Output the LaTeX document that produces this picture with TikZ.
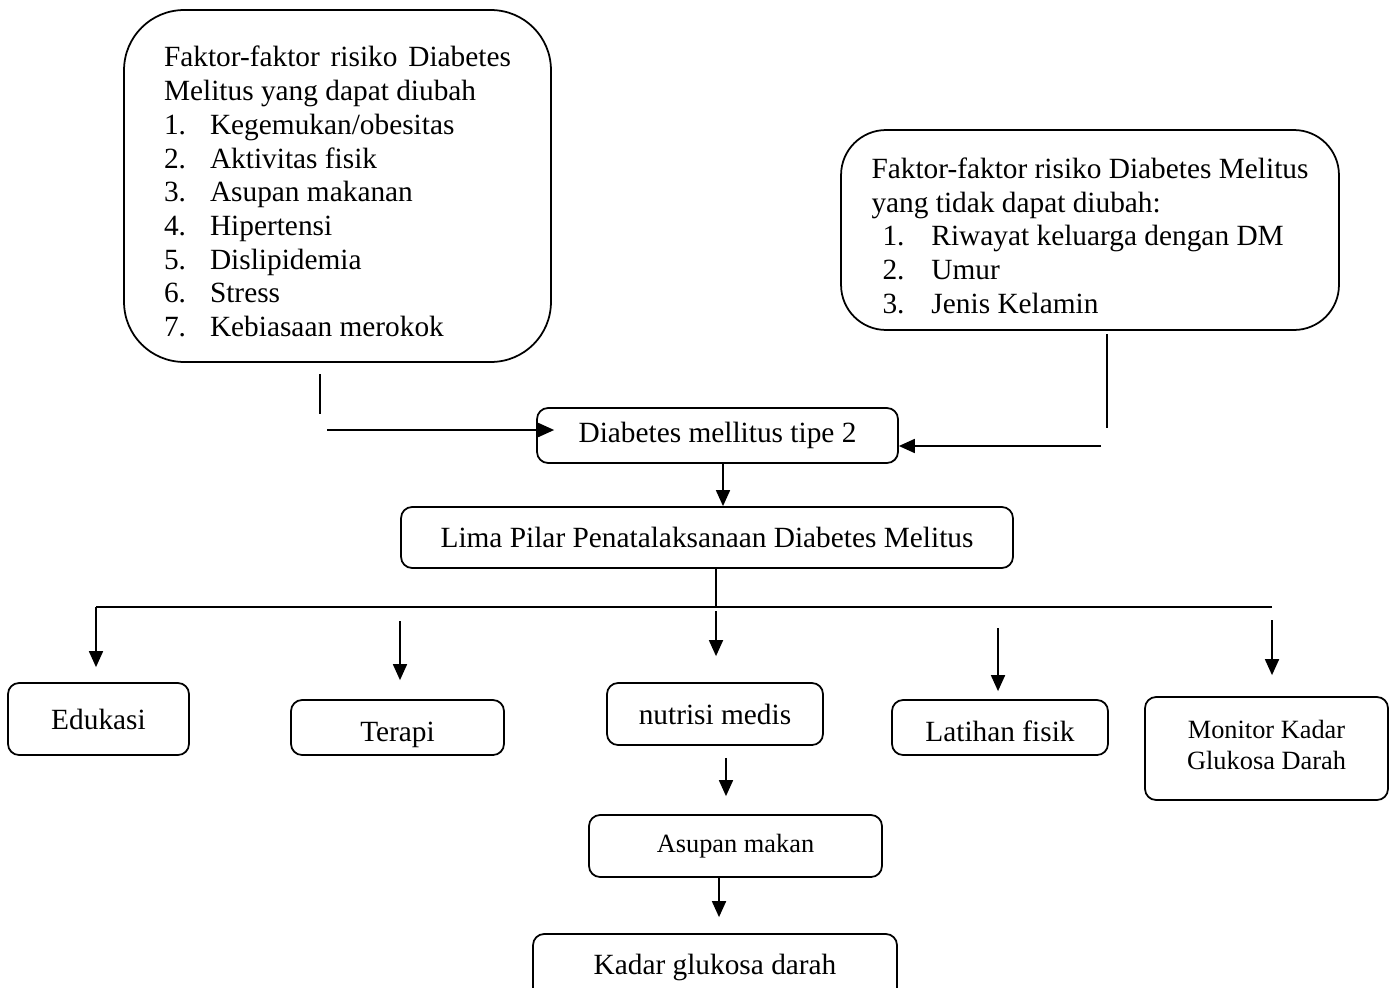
\documentclass[tikz,border=0pt]{standalone}
\usepackage{fontspec}
\setmainfont{Liberation Serif}
\usetikzlibrary{arrows.meta}
\tikzset{
  risk box/.style={
    draw=black, line width=1pt, rounded corners=1.2cm, inner sep=0pt, align=left,
    font=\fontsize{16.7}{19.2}\selectfont
  },
  main box/.style={
    draw=black, line width=1pt, rounded corners=0.22cm, inner sep=0pt, align=center,
    font=\fontsize{16.7}{19.2}\selectfont
  },
  small box/.style={
    draw=black, line width=1pt, rounded corners=0.22cm, inner sep=0pt, align=center,
    font=\fontsize{15}{17.6}\selectfont
  },
  link/.style={draw=black, line width=1pt},
  flow/.style={draw=black, line width=1pt, -{Triangle[length=0.32cm,width=0.28cm]}}
}

\begin{document}
\begin{tikzpicture}[x=0.02cm, y=-0.02cm]
\useasboundingbox (0,0) rectangle (1395,987);

% faktor risiko yang dapat diubah
\node[risk box, minimum width=8.54cm, minimum height=7.04cm] (riskA) at (337.5,186) {%
  \rule{0pt}{0.64cm}\makebox[6.94cm][s]{Faktor-faktor risiko Diabetes}\\
  Melitus yang dapat diubah\\
  \makebox[0.92cm][l]{1.}Kegemukan/obesitas\\
  \makebox[0.92cm][l]{2.}Aktivitas fisik\\
  \makebox[0.92cm][l]{3.}Asupan makanan\\
  \makebox[0.92cm][l]{4.}Hipertensi\\
  \makebox[0.92cm][l]{5.}Dislipidemia\\
  \makebox[0.92cm][l]{6.}Stress\\
  \makebox[0.92cm][l]{7.}Kebiasaan merokok};

% faktor risiko yang tidak dapat diubah
\node[risk box, rounded corners=0.9cm, minimum width=9.96cm, minimum height=4cm] (riskB) at (1090,230) {%
  \rule{0pt}{0.64cm}Faktor-faktor risiko Diabetes Melitus\\
  yang tidak dapat diubah:\\
  \hspace{0.22cm}\makebox[0.98cm][l]{1.}Riwayat keluarga dengan DM\\
  \hspace{0.22cm}\makebox[0.98cm][l]{2.}Umur\\
  \hspace{0.22cm}\makebox[0.98cm][l]{3.}Jenis Kelamin};

% diagnosis dan lima pilar
\node[main box, minimum width=7.22cm, minimum height=1.1cm]  (dm)   at (717.5,435.5) {Diabetes mellitus tipe 2};
\node[main box, minimum width=12.24cm, minimum height=1.22cm] (lima) at (707,537.5)  {Lima Pilar Penatalaksanaan Diabetes Melitus};

% kelima pilar
\node[main box, minimum width=3.62cm, minimum height=1.44cm]  (edu) at (98.5,719)    {Edukasi};
\node[main box, minimum width=4.26cm, minimum height=1.1cm, text height=0.62cm, text depth=0.08cm] (ter) at (397.5,727.5) {Terapi};
\node[main box, minimum width=4.32cm, minimum height=1.24cm]  (nut) at (715,714)      {nutrisi medis};
\node[main box, minimum width=4.32cm, minimum height=1.1cm, text height=0.56cm, text depth=0cm] (lat) at (1000,727.5) {Latihan fisik};
\node[small box, minimum width=4.86cm, minimum height=2.06cm, text depth=0.16cm] (mon) at (1266.5,748.5) {Monitor Kadar\\Glukosa Darah};

% asupan dan kadar glukosa
\node[small box, minimum width=5.86cm, minimum height=1.24cm] (asu) at (735.5,846) {Asupan makan};
\node[main box, minimum width=7.28cm, minimum height=1.32cm]  (kgd) at (715,967)   {Kadar glukosa darah};

% panah dari faktor risiko
\coordinate (lStubA) at (320,374);
\coordinate (lStubB) at (320,414);
\coordinate (lIn)    at (327,430);
\draw[link] (lStubA) -- (lStubB);
\draw[flow, shorten >=-0.36cm] (lIn) -- (lIn -| dm.west);

\coordinate (rStubA) at (1107,334);
\coordinate (rStubB) at (1107,428);
\coordinate (rIn)    at (1101,446);
\draw[link] (rStubA) -- (rStubB);
\draw[flow] (rIn) -- (rIn -| dm.east);

\draw[flow] ([xshift=0.11cm]dm.south) -- ([xshift=0.11cm]dm.south |- lima.north);

% garis cabang ke lima pilar
\coordinate (busL) at (96,607);
\coordinate (busR) at (1272,607);
\draw[link] ([xshift=0.18cm]lima.south) -- ([xshift=0.18cm]lima.south |- busL);
\draw[link] (busR) -- (busL);
\draw[flow, shorten >=0.3cm] (busL) -- (busL |- edu.north);

\coordinate (terTop) at (400,621);
\coordinate (nutTop) at (716,611);
\coordinate (latTop) at (998,628);
\coordinate (monTop) at (1272,620);
\draw[flow, shorten >=0.38cm] (terTop) -- (terTop |- ter.north);
\draw[flow, shorten >=0.52cm] (nutTop) -- (nutTop |- nut.north);
\draw[flow, shorten >=0.16cm] (latTop) -- (latTop |- lat.north);
\draw[flow, shorten >=0.42cm] (monTop) -- (monTop |- mon.north);

% nutrisi ke asupan ke kadar glukosa
\draw[flow, shorten <=0.24cm, shorten >=0.36cm] ([xshift=0.22cm]nut.south) -- ([xshift=0.22cm]nut.south |- asu.north);
\draw[flow, shorten >=0.32cm] ([xshift=-0.33cm]asu.south) -- ([xshift=-0.33cm]asu.south |- kgd.north);

\end{tikzpicture}
\end{document}
